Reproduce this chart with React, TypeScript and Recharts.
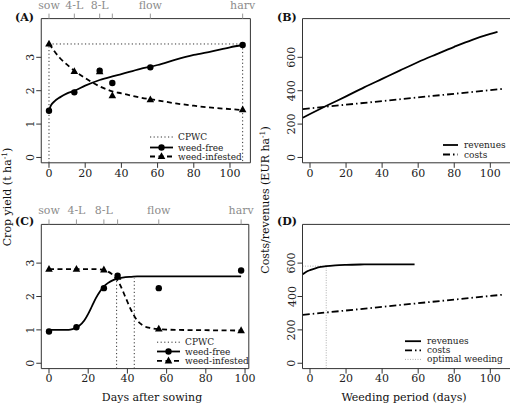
import React from "react";
import { ComposedChart, Line, Scatter, XAxis, YAxis, ReferenceArea } from "recharts";

const FONT = "'DejaVu Serif', serif";

// (A) yield vs days after sowing, first trial
const obsDaysA = [0, 14, 28, 35, 56, 107];
const weedFreeObsA = [1.4, 1.95, 2.6, 2.23, 2.7, 3.37];
const weedInfObsA = [3.4, 2.58, 2.57, 1.85, 1.73, 1.43];
const curveDaysA = [0, 1, 3, 6, 10, 14, 20, 28, 35, 40, 50, 60, 70, 80, 90, 100, 107];
const weedFreeCurveA = [1.4, 1.55, 1.68, 1.8, 1.92, 2.0, 2.15, 2.32, 2.43, 2.5, 2.65, 2.77, 2.93, 3.07, 3.18, 3.3, 3.37];
const weedInfCurveA = [3.4, 3.33, 3.18, 2.98, 2.78, 2.6, 2.38, 2.13, 1.98, 1.92, 1.8, 1.71, 1.62, 1.55, 1.49, 1.45, 1.42];
const cpwcDaysA = [0, 107];
const cpwcYieldA = 3.4;
const stageTicksA = [0, 14, 28, 35, 56, 107];

// (C) second trial
const obsDaysC = [0, 14, 28, 35, 56, 98];
const weedFreeObsC = [0.95, 1.08, 2.25, 2.62, 2.25, 2.78];
const weedInfObsC = [2.82, 2.82, 2.8, 2.58, 1.03, 0.98];
const curveDaysC = [0, 5, 10, 12, 15, 18, 20, 22, 24, 26, 28, 30, 33, 36, 39, 42, 45, 48, 52, 56, 65, 80, 98];
const weedFreeCurveC = [1.0, 1.0, 1.0, 1.02, 1.1, 1.28, 1.48, 1.72, 1.96, 2.15, 2.3, 2.4, 2.5, 2.55, 2.58, 2.59, 2.6, 2.6, 2.6, 2.6, 2.6, 2.6, 2.6];
const weedInfCurveC = [2.82, 2.82, 2.82, 2.82, 2.82, 2.82, 2.82, 2.82, 2.82, 2.81, 2.79, 2.75, 2.62, 2.38, 1.98, 1.58, 1.28, 1.13, 1.05, 1.02, 1.0, 0.99, 0.98];
const cpwcDaysC = [34.5, 43.5];
const cpwcTopsC = [2.62, 2.55];
const stageTicksC = [0, 14, 28, 35, 56, 98];

const stageLabels = ["sow", "4-L", "8-L", "", "flow", "harv"];

// (B) economics, first trial
const revDaysB = [-4, 0, 10, 20, 30, 40, 50, 60, 70, 80, 90, 100, 104];
const revenuesB = [238, 260, 314, 366, 420, 471, 522, 572, 618, 663, 705, 740, 752];
const costDays = [-4, 108];
const costs = [290, 412];

// (D) economics, second trial
const revDaysD = [-4, -2, 0, 3, 6, 9, 14, 20, 30, 40, 50, 58];
const revenuesD = [533, 548, 558, 569, 577, 582, 587, 590, 592, 593, 593, 593];
const optimalDay = 9;
const optimalRevenue = 582;

const yieldTicks = [0, 1, 2, 3];
const moneyTicks = [0, 200, 400, 600];
const xTicks = [0, 20, 40, 60, 80, 100];

const yieldDomain: [number, number] = [-0.16, 4.16];
const moneyDomain: [number, number] = [-32, 832];
const moneyXDomain: [number, number] = [-4.16, 111.2];

const pts = (xs: number[], ys: number[]) => xs.map((x, i) => ({ x, y: ys[i] }));

const Dot = (p: any) => <circle cx={p.cx} cy={p.cy} r={3.2} fill="#000" />;
const Tri = (p: any) => (
  <polygon points={`${p.cx},${p.cy - 4.2} ${p.cx - 3.8},${p.cy + 2.6} ${p.cx + 3.8},${p.cy + 2.6}`} fill="#000" />
);

function YTick(props: any) {
  const { x, y, payload } = props;
  return (
    <text x={x} y={y} transform={`rotate(-90 ${x} ${y})`} textAnchor="middle" fontSize={11} fontFamily={FONT} fill="#222">
      {payload.value}
    </text>
  );
}

interface PanelProps {
  left: number;
  top: number;
  width: number;
  height: number;
  box: [number, number, number, number];
  xDomain: [number, number];
  yDomain: [number, number];
  yTicks: number[];
  stages?: number[];
  children: React.ReactNode;
}

function Panel({ left, top, width, height, box, xDomain, yDomain, yTicks, stages, children }: PanelProps) {
  const yW = 30;
  const topH = stages ? 15 : 0;
  const xH = 25;
  const margin = {
    left: box[0] - left - yW,
    right: left + width - box[1],
    top: box[2] - top - topH,
    bottom: top + height - box[3] - xH,
  };
  return (
    <div style={{ position: "absolute", left, top }}>
      <ComposedChart width={width} height={height} margin={margin}>
        <XAxis
          dataKey="x"
          type="number"
          domain={xDomain}
          allowDataOverflow
          ticks={xTicks}
          height={xH}
          axisLine={false}
          tickSize={5}
          tickMargin={1}
          tickLine={{ stroke: "#333" }}
          tick={{ fontSize: 11, fill: "#222", fontFamily: FONT }}
        />
        {stages && (
          <XAxis
            xAxisId="top"
            orientation="top"
            dataKey="x"
            type="number"
            domain={xDomain}
            allowDataOverflow
            ticks={stages}
            height={topH}
            axisLine={false}
            tickSize={5}
            tickMargin={5}
            interval={0}
            tickFormatter={(v: number) => stageLabels[stages.indexOf(v)] ?? ""}
            tickLine={{ stroke: "#999" }}
            tick={{ fontSize: 11, fill: "#8c8c8c", fontFamily: FONT }}
          />
        )}
        <YAxis
          dataKey="y"
          type="number"
          domain={yDomain}
          allowDataOverflow
          ticks={yTicks}
          width={yW}
          axisLine={false}
          tickSize={5}
          tickMargin={2}
          tickLine={{ stroke: "#333" }}
          tick={<YTick />}
        />
        <ReferenceArea x1={xDomain[0]} x2={xDomain[1]} y1={yDomain[0]} y2={yDomain[1]} fill="none" stroke="#333" strokeWidth={1} />
        {children}
      </ComposedChart>
    </div>
  );
}

function LegendLine({ x1, x2, y, dash, color = "#000", w = 1.8, marker }: any) {
  const mx = (x1 + x2) / 2;
  return (
    <g>
      <line x1={x1} x2={x2} y1={y} y2={y} stroke={color} strokeWidth={w} strokeDasharray={dash} />
      {marker === "dot" && <circle cx={mx} cy={y} r={3.2} fill="#000" />}
      {marker === "tri" && <polygon points={`${mx},${y - 4.2} ${mx - 3.8},${y + 2.6} ${mx + 3.8},${y + 2.6}`} fill="#000" />}
    </g>
  );
}

function LegText({ x, y, children }: any) {
  return (
    <text x={x} y={y + 3} fontSize={9} fontFamily={FONT} fill="#222">
      {children}
    </text>
  );
}

const DASH_INF = "5 3.5";
const DOT = "1.2 2.4";
const DOTDASH = "7 3 1.5 3";

export default function App() {
  const yMin = yieldDomain[0];
  const mMin = moneyDomain[0];
  return (
    <div style={{ position: "absolute", left: 0, top: 0, width: 510, height: 404, overflow: "hidden", background: "#fff", fontFamily: FONT }}>
      {/* (A) */}
      <Panel left={0} top={0} width={260} height={195} box={[41.25, 250.4, 18.6, 162.8]} xDomain={[-4.28, 111.28]} yDomain={yieldDomain} yTicks={yieldTicks} stages={stageTicksA}>
        <Line data={[{ x: cpwcDaysA[0], y: yMin }, { x: cpwcDaysA[0], y: cpwcYieldA }, { x: cpwcDaysA[1], y: cpwcYieldA }, { x: cpwcDaysA[1], y: yMin }]} dataKey="y" type="linear" stroke="#333" strokeWidth={1} strokeDasharray={DOT} dot={false} isAnimationActive={false} />
        <Line data={pts(curveDaysA, weedFreeCurveA)} dataKey="y" type="monotone" stroke="#000" strokeWidth={1.8} dot={false} isAnimationActive={false} />
        <Line data={pts(curveDaysA, weedInfCurveA)} dataKey="y" type="monotone" stroke="#000" strokeWidth={1.8} strokeDasharray={DASH_INF} dot={false} isAnimationActive={false} />
        <Scatter data={pts(obsDaysA, weedFreeObsA)} dataKey="y" shape={Dot} isAnimationActive={false} />
        <Scatter data={pts(obsDaysA, weedInfObsA)} dataKey="y" shape={Tri} isAnimationActive={false} />
      </Panel>

      {/* (B) */}
      <Panel left={255} top={0} width={260} height={195} box={[302.5, 510.5, 18.6, 162.8]} xDomain={moneyXDomain} yDomain={moneyDomain} yTicks={moneyTicks}>
        <Line data={pts(revDaysB, revenuesB)} dataKey="y" type="monotone" stroke="#000" strokeWidth={1.8} dot={false} isAnimationActive={false} />
        <Line data={pts(costDays, costs)} dataKey="y" type="linear" stroke="#000" strokeWidth={1.8} strokeDasharray={DOTDASH} dot={false} isAnimationActive={false} />
      </Panel>

      {/* (C) */}
      <Panel left={0} top={195} width={260} height={209} box={[41.3, 248.8, 224.4, 368.6]} xDomain={[-3.92, 101.92]} yDomain={yieldDomain} yTicks={yieldTicks} stages={stageTicksC}>
        <Line data={[{ x: cpwcDaysC[0], y: yMin }, { x: cpwcDaysC[0], y: cpwcTopsC[0] }]} dataKey="y" type="linear" stroke="#333" strokeWidth={1} strokeDasharray={DOT} dot={false} isAnimationActive={false} />
        <Line data={[{ x: cpwcDaysC[1], y: yMin }, { x: cpwcDaysC[1], y: cpwcTopsC[1] }]} dataKey="y" type="linear" stroke="#333" strokeWidth={1} strokeDasharray={DOT} dot={false} isAnimationActive={false} />
        <Line data={pts(curveDaysC, weedFreeCurveC)} dataKey="y" type="monotone" stroke="#000" strokeWidth={1.8} dot={false} isAnimationActive={false} />
        <Line data={pts(curveDaysC, weedInfCurveC)} dataKey="y" type="monotone" stroke="#000" strokeWidth={1.8} strokeDasharray={DASH_INF} dot={false} isAnimationActive={false} />
        <Scatter data={pts(obsDaysC, weedFreeObsC)} dataKey="y" shape={Dot} isAnimationActive={false} />
        <Scatter data={pts(obsDaysC, weedInfObsC)} dataKey="y" shape={Tri} isAnimationActive={false} />
      </Panel>

      {/* (D) */}
      <Panel left={255} top={195} width={260} height={209} box={[302.5, 510.5, 224.4, 368.6]} xDomain={moneyXDomain} yDomain={moneyDomain} yTicks={moneyTicks}>
        <Line data={[{ x: moneyXDomain[0], y: optimalRevenue }, { x: optimalDay, y: optimalRevenue }, { x: optimalDay, y: mMin }]} dataKey="y" type="linear" stroke="#999" strokeWidth={0.8} strokeDasharray="1 1.5" dot={false} isAnimationActive={false} />
        <Line data={pts(revDaysD, revenuesD)} dataKey="y" type="monotone" stroke="#000" strokeWidth={1.8} dot={false} isAnimationActive={false} />
        <Line data={pts(costDays, costs)} dataKey="y" type="linear" stroke="#000" strokeWidth={1.8} strokeDasharray={DOTDASH} dot={false} isAnimationActive={false} />
      </Panel>

      <svg width={510} height={404} style={{ position: "absolute", left: 0, top: 0, pointerEvents: "none" }}>
        <g fontFamily={FONT} fill="#111">
          <text x={15} y={21} fontSize={11} fontWeight="bold">(A)</text>
          <text x={277} y={21} fontSize={11} fontWeight="bold">(B)</text>
          <text x={15} y={225} fontSize={11} fontWeight="bold">(C)</text>
          <text x={277} y={225} fontSize={11} fontWeight="bold">(D)</text>

          <text transform="translate(10.5,197) rotate(-90)" textAnchor="middle" fontSize={11}>
            Crop yield (t ha<tspan dy={-4} fontSize={7.5}>-1</tspan><tspan dy={4}>)</tspan>
          </text>
          <text transform="translate(269,200) rotate(-90)" textAnchor="middle" fontSize={11}>
            Costs/revenues (EUR ha<tspan dy={-4} fontSize={7.5}>-1</tspan><tspan dy={4}>)</tspan>
          </text>
          <text x={152} y={400.5} textAnchor="middle" fontSize={11}>Days after sowing</text>
          <text x={404} y={400.5} textAnchor="middle" fontSize={11}>Weeding period (days)</text>
        </g>

        {/* legend A */}
        <LegendLine x1={150} x2={173} y={137} dash={DOT} color="#333" w={1} />
        <LegText x={178} y={137}>CPWC</LegText>
        <LegendLine x1={150} x2={173} y={147.5} marker="dot" />
        <LegText x={178} y={147.5}>weed-free</LegText>
        <LegendLine x1={150} x2={173} y={156.5} dash={DASH_INF} marker="tri" />
        <LegText x={178} y={156.5}>weed-infested</LegText>

        {/* legend C */}
        <LegendLine x1={157} x2={180} y={342.2} dash={DOT} color="#333" w={1} />
        <LegText x={185} y={342.2}>CPWC</LegText>
        <LegendLine x1={157} x2={180} y={351.5} marker="dot" />
        <LegText x={185} y={351.5}>weed-free</LegText>
        <LegendLine x1={157} x2={180} y={360.8} dash={DASH_INF} marker="tri" />
        <LegText x={185} y={360.8}>weed-infested</LegText>

        {/* legend B */}
        <LegendLine x1={443} x2={458} y={145} />
        <LegText x={464} y={145}>revenues</LegText>
        <LegendLine x1={443} x2={458} y={154.5} dash={DOTDASH} />
        <LegText x={464} y={154.5}>costs</LegText>

        {/* legend D */}
        <LegendLine x1={405} x2={421} y={341.2} />
        <LegText x={427} y={341.2}>revenues</LegText>
        <LegendLine x1={405} x2={421} y={350.3} dash={DOTDASH} />
        <LegText x={427} y={350.3}>costs</LegText>
        <LegendLine x1={405} x2={421} y={359.4} dash="1 1.5" color="#999" w={0.8} />
        <LegText x={427} y={359.4}>optimal weeding</LegText>
      </svg>
    </div>
  );
}
